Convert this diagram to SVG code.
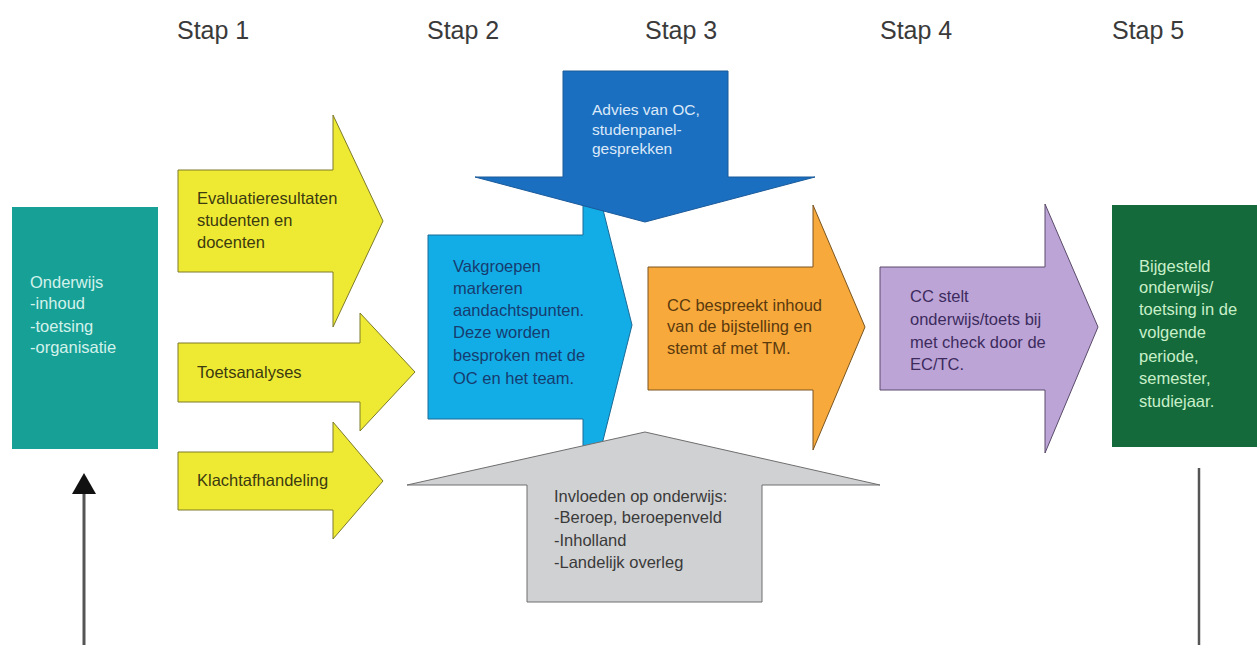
<svg xmlns="http://www.w3.org/2000/svg" width="1258" height="645" viewBox="0 0 1258 645">
<style>
.step{font-family:"Liberation Sans",Arial,sans-serif;font-size:25px;fill:#3a3a3a}
.t{font-family:"Liberation Sans",Arial,sans-serif;font-size:16.5px}
.shape{stroke-width:1}
</style>
<rect width="1258" height="645" fill="#ffffff"/>
<g id="steps">
<text class="step" x="177" y="39">Stap 1</text>
<text class="step" x="427" y="39">Stap 2</text>
<text class="step" x="645" y="39">Stap 3</text>
<text class="step" x="880" y="39">Stap 4</text>
<text class="step" x="1112" y="39">Stap 5</text>
</g>
<g id="connectors">
<line x1="84" y1="645" x2="84" y2="492" stroke="#555" stroke-width="3"/>
<polygon points="84,473 96,494 72,494" fill="#111"/>
<line x1="1199" y1="468" x2="1199" y2="645" stroke="#555" stroke-width="2.5"/>
</g>
<g id="evaluatie">
<polygon class="shape" points="178,170 333,170 333,115 383,221 333,327 333,272 178,272" fill="#eeea33" stroke="#7d7a2a"/>
<text class="t" fill="#3c3a10"><tspan x="197" y="204">Evaluatieresultaten</tspan><tspan x="197" y="226">studenten en</tspan><tspan x="197" y="248">docenten</tspan></text>
</g>
<g id="toets">
<polygon class="shape" points="178,343 360,343 360,313 415,372 360,431 360,402 178,402" fill="#eeea33" stroke="#7d7a2a"/>
<text class="t" fill="#3c3a10" x="197" y="378">Toetsanalyses</text>
</g>
<g id="klacht">
<polygon class="shape" points="178,452 333,452 333,422 383,481 333,539 333,510 178,510" fill="#eeea33" stroke="#7d7a2a"/>
<text class="t" fill="#3c3a10" x="197" y="486">Klachtafhandeling</text>
</g>
<g id="onderwijs">
<rect x="12" y="207" width="146" height="242" fill="#17a095"/>
<text class="t" fill="#d3f2ec"><tspan x="30" y="288">Onderwijs</tspan><tspan x="30" y="309">-inhoud</tspan><tspan x="30" y="332">-toetsing</tspan><tspan x="30" y="353">-organisatie</tspan></text>
</g>
<g id="vakgroepen">
<polygon class="shape" points="428,235 583,235 583,130 632,325 583,520 583,419 428,419" fill="#12ade6" stroke="#1b6a96"/>
<text class="t" fill="#173c70"><tspan x="453" y="272">Vakgroepen</tspan><tspan x="453" y="294">markeren</tspan><tspan x="453" y="316">aandachtspunten.</tspan><tspan x="453" y="338">Deze worden</tspan><tspan x="453" y="361">besproken met de</tspan><tspan x="453" y="384">OC en het team.</tspan></text>
</g>
<g id="advies">
<polygon class="shape" points="563,71 728,71 728,177 815,177 645,222 475,177 563,177" fill="#1b6fc1" stroke="#1a5a9a"/>
<text class="t" fill="#dbe9f8" style="font-size:15.5px"><tspan x="592" y="115">Advies van OC,</tspan><tspan x="592" y="135">studenpanel-</tspan><tspan x="592" y="154">gesprekken</tspan></text>
</g>
<g id="invloeden">
<polygon class="shape" points="527,602 527,485 407,485 645,432 880,485 762,485 762,602" fill="#d0d1d3" stroke="#6e6e6e"/>
<text class="t" fill="#3a3a3a"><tspan x="554" y="502">Invloeden op onderwijs:</tspan><tspan x="554" y="523">-Beroep, beroepenveld</tspan><tspan x="554" y="546">-Inholland</tspan><tspan x="554" y="568">-Landelijk overleg</tspan></text>
</g>
<g id="cc-bespreekt">
<polygon class="shape" points="648,267 813,267 813,205 865,327 813,450 813,390 648,390" fill="#f7a93b" stroke="#7a5520"/>
<text class="t" fill="#5b3a0e"><tspan x="667" y="311">CC bespreekt inhoud</tspan><tspan x="667" y="332">van de bijstelling en</tspan><tspan x="667" y="354">stemt af met TM.</tspan></text>
</g>
<g id="cc-stelt">
<polygon class="shape" points="880,267 1045,267 1045,204 1098,327 1045,453 1045,390 880,390" fill="#bca5d6" stroke="#5a4a6a"/>
<text class="t" fill="#3d2b5e"><tspan x="910" y="302">CC stelt</tspan><tspan x="910" y="325">onderwijs/toets bij</tspan><tspan x="910" y="348">met check door de</tspan><tspan x="910" y="370">EC/TC.</tspan></text>
</g>
<g id="bijgesteld">
<rect x="1112" y="205" width="145" height="242" fill="#146a3b"/>
<text class="t" fill="#c9efc9"><tspan x="1139" y="272">Bijgesteld</tspan><tspan x="1139" y="293">onderwijs/</tspan><tspan x="1139" y="315">toetsing in de</tspan><tspan x="1139" y="338">volgende</tspan><tspan x="1139" y="362">periode,</tspan><tspan x="1139" y="384">semester,</tspan><tspan x="1139" y="407">studiejaar.</tspan></text>
</g>
</svg>
